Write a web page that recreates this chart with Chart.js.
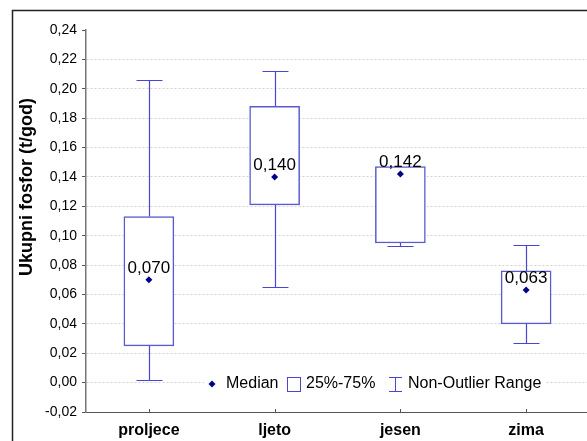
<!DOCTYPE html>
<html>
<head>
<meta charset="utf-8">
<script src="https://cdn.jsdelivr.net/npm/chart.js@4.4.1/dist/chart.umd.min.js"></script>
<style>
  html, body { margin: 0; padding: 0; background: #fff; overflow: hidden; }
  #wrap { position: relative; width: 593px; height: 441px; }
</style>
</head>
<body>
<div id="wrap"><canvas id="chart" width="593" height="441"></canvas></div>
<script>
const categories = ["proljece", "ljeto", "jesen", "zima"];
const whiskerMin = [0.002, 0.065, 0.093, 0.027];
const boxQ1 = [0.025, 0.121, 0.095, 0.040];
const medians = [0.070, 0.140, 0.142, 0.063];
const boxQ3 = [0.113, 0.188, 0.147, 0.076];
const whiskerMax = [0.206, 0.212, 0.147, 0.094];
const yTicksMin = -0.02, yTicksMax = 0.24, yStep = 0.02;

const BOX_COLOR = "#4646d2";
const MED_COLOR = "#00008b";
const fmt = (v, d) => v.toFixed(d).replace(".", ",");

const boxPlotExtras = {
    id: "boxPlotExtras",
    beforeDraw(chart) {
        // outer frame (left + top)
        const ctx = chart.ctx;
        ctx.save();
        ctx.strokeStyle = "#222";
        ctx.lineWidth = 1.5;
        ctx.beginPath();
        ctx.moveTo(12.5, chart.height);
        ctx.lineTo(12.5, 10.5);
        ctx.lineTo(chart.width, 10.5);
        ctx.stroke();
        ctx.restore();
    },
    beforeDatasetsDraw(chart) {
        const ctx = chart.ctx;
        const x = chart.scales.x, y = chart.scales.y;
        ctx.save();
        ctx.strokeStyle = BOX_COLOR;
        ctx.lineWidth = 1.2;
        categories.forEach((c, i) => {
            const cx = Math.round(x.getPixelForValue(i)) + 0.5;
            const yMax = Math.round(y.getPixelForValue(whiskerMax[i])) + 0.5;
            const yMin = Math.round(y.getPixelForValue(whiskerMin[i])) + 0.5;
            const yQ3 = y.getPixelForValue(boxQ3[i]);
            const yQ1 = y.getPixelForValue(boxQ1[i]);
            ctx.beginPath();
            ctx.moveTo(cx, yMax); ctx.lineTo(cx, yQ3);
            ctx.moveTo(cx, yQ1); ctx.lineTo(cx, yMin);
            ctx.moveTo(cx - 13, yMax); ctx.lineTo(cx + 13, yMax);
            ctx.moveTo(cx - 13, yMin); ctx.lineTo(cx + 13, yMin);
            ctx.stroke();
        });
        ctx.restore();
    },
    afterDatasetsDraw(chart) {
        const ctx = chart.ctx;
        const x = chart.scales.x, y = chart.scales.y;
        ctx.save();
        ctx.fillStyle = "#000";
        ctx.font = "17px Arial, 'Liberation Sans'";
        ctx.textAlign = "center";
        ctx.textBaseline = "alphabetic";
        medians.forEach((m, i) => {
            ctx.fillText(fmt(m, 3), x.getPixelForValue(i), y.getPixelForValue(m) - 7);
        });
        ctx.restore();
    },
    afterDraw(chart) {
        const ctx = chart.ctx;
        const area = chart.chartArea;
        ctx.save();
        // y axis title
        ctx.translate(27, 187);
        ctx.rotate(-Math.PI / 2);
        ctx.font = "bold 18px Arial, 'Liberation Sans'";
        ctx.fillStyle = "#000";
        ctx.textAlign = "center";
        ctx.textBaseline = "middle";
        ctx.fillText("Ukupni fosfor (t/god)", 0, 0);
        ctx.restore();

        // x tick marks pointing up
        ctx.save();
        ctx.strokeStyle = "#555";
        ctx.lineWidth = 1;
        ctx.beginPath();
        categories.forEach((c, i) => {
            const px = Math.round(chart.scales.x.getPixelForValue(i)) + 0.5;
            ctx.moveTo(px, area.bottom);
            ctx.lineTo(px, area.bottom - 3);
        });
        ctx.stroke();
        ctx.restore();

        // legend
        ctx.save();
        const ly = 384;
        ctx.fillStyle = "#fff";
        ctx.fillRect(204, 374, 342, 20);
        ctx.fillStyle = MED_COLOR;
        ctx.beginPath();
        ctx.moveTo(212, ly - 3.5); ctx.lineTo(215.5, ly);
        ctx.lineTo(212, ly + 3.5); ctx.lineTo(208.5, ly);
        ctx.closePath(); ctx.fill();
        ctx.font = "16px Arial, 'Liberation Sans'";
        ctx.fillStyle = "#000";
        ctx.textBaseline = "middle";
        ctx.fillText("Median", 226, ly);
        ctx.strokeStyle = BOX_COLOR;
        ctx.lineWidth = 1;
        ctx.strokeRect(287.5, 377.5, 13, 14);
        ctx.fillText("25%-75%", 306, ly);
        ctx.beginPath();
        ctx.moveTo(395.5, 377.5); ctx.lineTo(395.5, 391.5);
        ctx.moveTo(389, 377.5); ctx.lineTo(402, 377.5);
        ctx.moveTo(389, 391.5); ctx.lineTo(402, 391.5);
        ctx.stroke();
        ctx.fillText("Non-Outlier Range", 408, ly);
        ctx.restore();
    }
};

new Chart(document.getElementById("chart"), {
    type: "bar",
    data: {
        labels: categories,
        datasets: [
            {
                type: "line",
                label: "Median",
                data: medians,
                showLine: false,
                pointStyle: "rectRot",
                pointRadius: 3.5,
                pointBackgroundColor: MED_COLOR,
                pointBorderColor: MED_COLOR,
                pointBorderWidth: 0,
                order: 0
            },
            {
                label: "25%-75%",
                data: boxQ1.map((q, i) => [q, boxQ3[i]]),
                backgroundColor: "#fff",
                borderColor: "#5a5ad0",
                borderWidth: 1.5,
                borderSkipped: false,
                barThickness: 50,
                order: 1
            }
        ]
    },
    options: {
        responsive: false,
        animation: false,
        devicePixelRatio: 1,
        layout: { padding: { top: 30, left: 0, right: 0, bottom: 0 } },
        plugins: {
            legend: { display: false },
            tooltip: { enabled: false }
        },
        scales: {
            x: {
                offset: true,
                grid: { display: false, drawTicks: false },
                border: { display: true, color: "#555", width: 1 },
                ticks: {
                    color: "#000",
                    padding: 9,
                    font: { family: "Arial, 'Liberation Sans'", size: 16, weight: "bold" }
                },
                afterFit: (scale) => { scale.height = 29; }
            },
            y: {
                min: yTicksMin,
                max: yTicksMax,
                grid: {
                    color: (ctx) => {
                        const v = ctx.tick ? ctx.tick.value : null;
                        if (v === null) return "transparent";
                        if (Math.abs(v - yTicksMax) < 1e-9 || Math.abs(v - yTicksMin) < 1e-9) return "transparent";
                        return "#d2d2d2";
                    },
                    lineWidth: 1,
                    drawTicks: true,
                    tickLength: 4,
                    tickColor: "#555"
                },
                border: { display: true, color: "#777", width: 1.5, dash: [2, 2] },
                ticks: {
                    stepSize: yStep,
                    color: "#000",
                    padding: 5,
                    font: { family: "Arial, 'Liberation Sans'", size: 14 },
                    callback: (v) => fmt(v, 2)
                },
                afterFit: (scale) => { scale.width = 86; }
            }
        }
    },
    plugins: [boxPlotExtras]
});
</script>
</body>
</html>
